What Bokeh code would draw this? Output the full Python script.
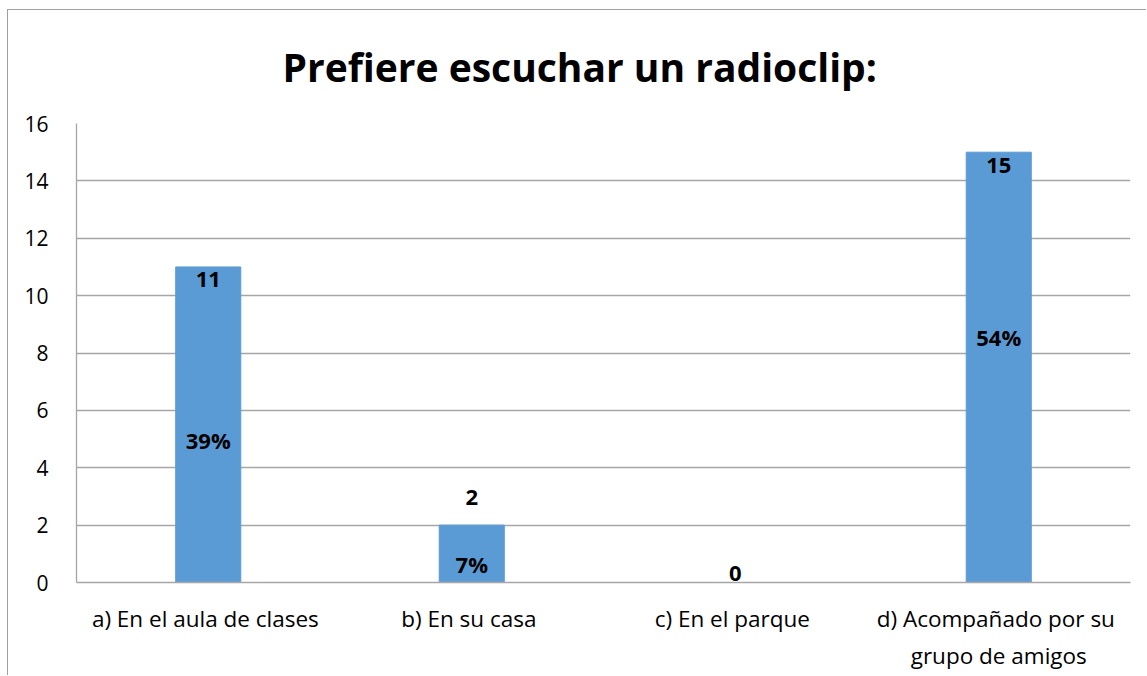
from bokeh.plotting import figure
from bokeh.models import ColumnDataSource, Range1d, FactorRange, FixedTicker
from bokeh.core.properties import value
from bokeh.embed import file_html
from bokeh.resources import INLINE

# ---- data ----
categories = ["a)  En el aula de clases", "b)  En su casa", "c)  En el parque",
              "d)  Acompañado por su\ngrupo de amigos"]
counts = [11, 2, 0, 15]
percent_labels = ["39%", "7%", "", "54%"]
y_ticks = [0, 2, 4, 6, 8, 10, 12, 14, 16]

# ---- label placement (style) ----
count_label_dy = [13, -28, -9, 13]          # screen px from bar top
pct_label_y = [4.97, 0.63, None, 8.56]      # data-unit anchor of % labels

FONT = "Open Sans"
BAR = "#5B9BD5"
GRID = "#A6A6A6"

p = figure(width=1139, height=666, x_range=FactorRange(*categories, range_padding=0),
           y_range=Range1d(0, 16), output_backend="svg", toolbar_location=None,
           min_border_left=68, min_border_right=17, min_border_top=112,
           min_border_bottom=94)
p.styles = {"margin-left": "7px", "margin-top": "9px",
            "border-left": "1px solid #A0A0A0", "border-top": "1px solid #A0A0A0"}
p.outline_line_color = None
p.background_fill_color = "white"
p.border_fill_color = "white"

p.title.text = "Prefiere escuchar un radioclip:"
p.title.align = "left"
p.title.vertical_align = "top"
p.title.text_line_height = 1.0
p.title.text_font = FONT
p.title.text_font_style = "bold"
p.title.text_font_size = "39px"
p.title.text_color = "black"
p.title.offset = 206
p.title.standoff = 58

src = ColumnDataSource(dict(cat=categories, n=counts,
                            ntext=[str(c) for c in counts], dy=count_label_dy))
p.vbar(x="cat", top="n", width=0.247, bottom=0, source=src,
       fill_color=BAR, line_color=BAR)

p.text(x="cat", y="n", text="ntext", y_offset="dy", source=src,
       text_font=value(FONT), text_font_style="bold", text_font_size="22px",
       text_align="center", text_baseline="middle", text_color="black")

pc = [c for c, y in zip(categories, pct_label_y) if y is not None]
pt = [t for t, y in zip(percent_labels, pct_label_y) if y is not None]
py = [y for y in pct_label_y if y is not None]
p.text(x=pc, y=py, text=pt,
       text_font=value(FONT), text_font_style="bold", text_font_size="22px",
       text_align="center", text_baseline="middle", text_color="black")

# axes
p.xgrid.grid_line_color = None
p.ygrid.grid_line_color = GRID
p.ygrid.grid_line_width = 1.3
p.yaxis.ticker = FixedTicker(ticks=y_ticks)
for ax in (p.xaxis[0], p.yaxis[0]):
    ax.axis_line_color = GRID
    ax.axis_line_width = 1.3
    ax.major_tick_line_color = None
    ax.minor_tick_line_color = None
    ax.major_label_text_font = FONT
    ax.major_label_text_color = "black"
p.yaxis.major_label_text_font_size = "21px"
p.xaxis.major_label_text_font_size = "22.5px"
p.yaxis.major_label_standoff = 22
p.xaxis.major_label_standoff = 14

open("out.html", "w").write(file_html(p, INLINE))
